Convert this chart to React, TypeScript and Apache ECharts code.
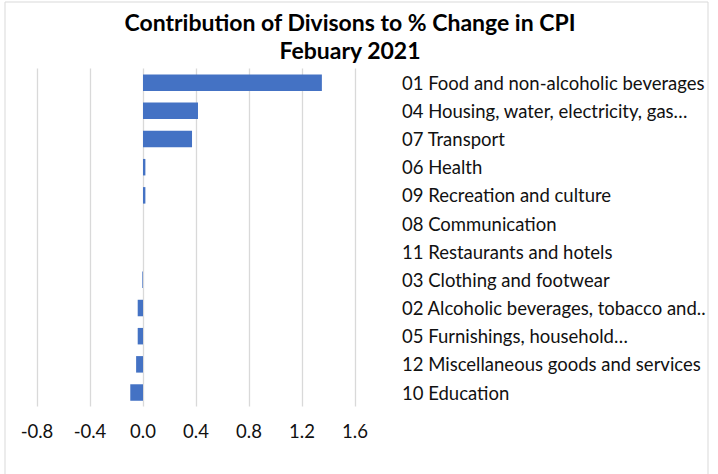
import React, { useEffect, useRef } from "react";
import * as echarts from "echarts";

const categories = [
  "01 Food and non-alcoholic beverages",
  "04 Housing, water, electricity, gas…",
  "07 Transport",
  "06 Health",
  "09 Recreation and culture",
  "08 Communication",
  "11 Restaurants and hotels",
  "03 Clothing and footwear",
  "02 Alcoholic beverages, tobacco and..",
  "05 Furnishings, household…",
  "12 Miscellaneous goods and services",
  "10 Education",
];
const values = [1.35, 0.415, 0.37, 0.018, 0.018, 0, 0, -0.005, -0.04, -0.04, -0.052, -0.096];
const titleLines = ["Contribution of Divisons to % Change in CPI", "Febuary 2021"];
const axisMin = -0.8;
const axisMax = 1.6;
const axisStep = 0.4;

const FONT = "Lato, 'Open Sans', sans-serif";

export default function App() {
  const ref = useRef<HTMLDivElement>(null);
  useEffect(() => {
    if (!ref.current) return;
    const chart = echarts.init(ref.current, undefined, { renderer: "svg" });
    chart.setOption({
      animation: false,
      backgroundColor: "#ffffff",
      textStyle: { fontFamily: FONT },
      graphic: [
        {
          type: "rect",
          shape: { x: 5, y: 2, width: 703, height: 490 },
          style: { fill: "none", stroke: "#d9d9d9", lineWidth: 1 },
          silent: true,
        },
        {
          type: "text",
          x: 350,
          y: 22,
          style: {
            text: titleLines[0],
            fontFamily: FONT,
            fontWeight: "bold",
            fontSize: 23,
            fill: "#000",
            textAlign: "center",
            textVerticalAlign: "middle",
          },
        },
        {
          type: "text",
          x: 350,
          y: 50,
          style: {
            text: titleLines[1],
            fontFamily: FONT,
            fontWeight: "bold",
            fontSize: 23,
            fill: "#000",
            textAlign: "center",
            textVerticalAlign: "middle",
          },
        },
      ],
      grid: { left: 37, top: 68.6, width: 318, height: 338, containLabel: false },
      xAxis: {
        type: "value",
        min: axisMin,
        max: axisMax,
        interval: axisStep,
        axisLine: { show: false },
        axisTick: { show: false },
        splitLine: { show: true, lineStyle: { color: "#d9d9d9", width: 1.3 } },
        axisLabel: {
          fontSize: 18.5,
          color: "#111",
          fontFamily: FONT,
          margin: 15,
          formatter: (v: number) => v.toFixed(1),
        },
      },
      yAxis: {
        type: "category",
        data: categories,
        inverse: true,
        position: "right",
        axisLine: { show: false },
        axisTick: { show: false },
        splitLine: { show: false },
        axisLabel: {
          fontSize: 18.5,
          color: "#111",
          fontFamily: FONT,
          align: "left",
          margin: 47,
        },
      },
      series: [
        {
          type: "bar",
          data: values,
          barWidth: 16.5,
          itemStyle: { color: "#4472C4" },
        },
      ],
    });
    return () => chart.dispose();
  }, []);
  return (
    <div
      ref={ref}
      style={{ position: "absolute", left: 0, top: 0, width: 718, height: 474 }}
    />
  );
}
